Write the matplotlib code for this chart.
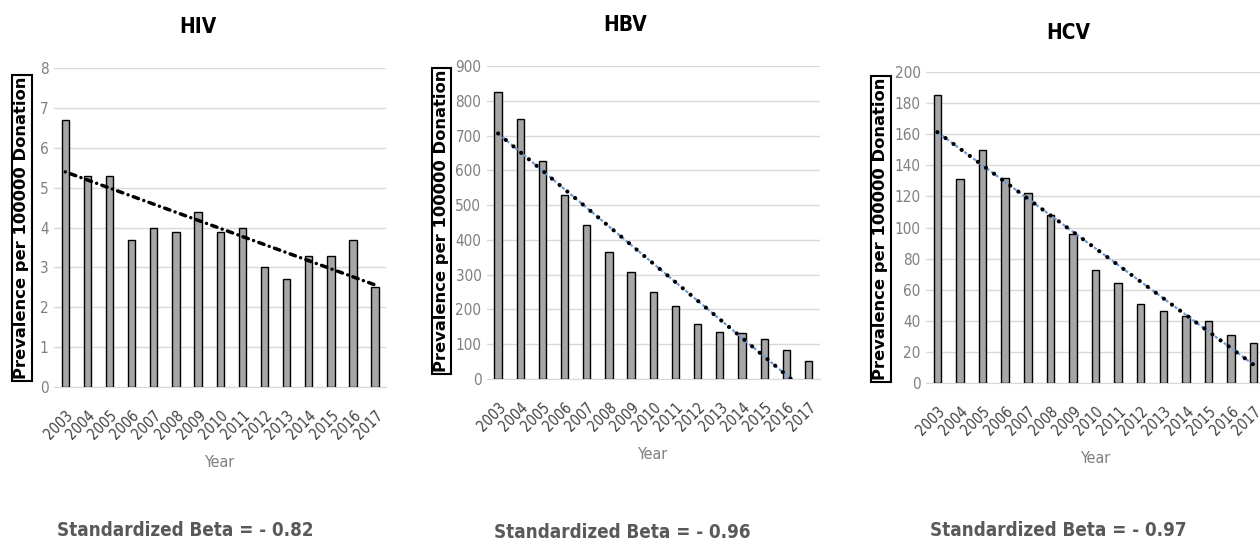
import matplotlib.pyplot as plt
import numpy as np
from matplotlib import font_manager

# Daten
years = ["2003", "2004", "2005", "2006", "2007", "2008", "2009", "2010",
         "2011", "2012", "2013", "2014", "2015", "2016", "2017"]
hiv = [6.7, 5.3, 5.3, 3.7, 4.0, 3.9, 4.4, 3.9, 4.0, 3.0, 2.7, 3.3, 3.3, 3.7, 2.5]
hbv = [825, 748, 626, 528, 443, 365, 307, 250, 210, 158, 135, 132, 116, 82, 53]
hcv = [185, 131, 150, 132, 122, 108, 96, 73, 64, 51, 46, 43, 40, 31, 26]
titles = ["HIV", "HBV", "HCV"]
betas = ["- 0.82", "- 0.96", "- 0.97"]

# schmale Schrift, falls vorhanden
names = {f.name for f in font_manager.fontManager.ttflist}
cond = [f for f in font_manager.fontManager.ttflist
        if f.name == "DejaVu Sans" and f.stretch in ("condensed", "semi-condensed")]
NARROW = ["Liberation Sans Narrow"] if "Liberation Sans Narrow" in names else ["Liberation Sans"]
STRETCH = "condensed" if cond else "normal"
NFAM = ["DejaVu Sans"] if cond else NARROW


def panel(fig, rect, values, ymax, ystep, trend_style):
    ax = fig.add_axes(rect)
    x = np.arange(len(years))
    # Balken
    ax.bar(x, values, width=0.33, color="#a6a6a6", edgecolor="black",
           linewidth=1.0, zorder=3)
    # lineare Regression
    params = np.polyfit(x, values, deg=1)
    x_plot = np.linspace(0, len(years) - 1, 200)
    y_plot = params[0] * x_plot + params[1]
    if trend_style == "black":
        ax.plot(x_plot, y_plot, color="black", linewidth=2.5,
                linestyle=(0, (0.01, 1.6, 1.6, 1.6)), dash_capstyle="round",
                zorder=4)
    else:
        ax.plot(x_plot, y_plot, color="#6f9bd8", linewidth=1.6,
                linestyle=(0, (1.5, 1.0)), zorder=4)
        ax.plot(x_plot, y_plot, color="black", linewidth=3.0,
                linestyle=(0, (0.01, 2.4)), dash_capstyle="round", zorder=5)

    ax.set_xlim(-0.5, len(years) - 0.5)
    ax.set_ylim(0, ymax)
    ax.set_yticks(np.arange(0, ymax + ystep / 2, ystep))
    ax.set_xticks(x)
    ax.set_xticklabels(years, rotation=45, ha="right", rotation_mode="anchor",
                       fontsize=10.5, color="#404040", family=NFAM,
                       fontstretch=STRETCH)
    for lab in ax.get_yticklabels():
        lab.set_family(NFAM)
        lab.set_fontstretch(STRETCH)
        lab.set_fontsize(11)
        lab.set_color("#7f7f7f")
    ax.tick_params(axis="both", length=0, pad=4)
    ax.tick_params(axis="x", pad=15)
    ax.grid(True, axis="y", color="#d9d9d9", linewidth=1.0, zorder=0)
    for side in ["left", "right", "top"]:
        ax.spines[side].set_visible(False)
    ax.spines["bottom"].set_color("#d9d9d9")
    ax.set_xlabel("Year", fontsize=11.5, color="#7f7f7f", family=NFAM,
                  fontstretch=STRETCH, labelpad=9)
    return ax


fig = plt.figure(figsize=(12.6, 5.46), dpi=100)

panel(fig, [0.043, 0.291, 0.2635, 0.5843], hiv, 8, 1, "black")
panel(fig, [0.3865, 0.306, 0.264, 0.573], hbv, 900, 100, "blue")
panel(fig, [0.735, 0.2985, 0.269, 0.5696], hcv, 200, 20, "blue")

# Titel
for xt, yt, t in zip([198, 625, 1068], [27, 25, 33], titles):
    fig.text(xt / 1260, 1 - yt / 546, t, ha="center", va="center",
             fontsize=15, fontweight="bold", family=NFAM, fontstretch=STRETCH)

# Achsenbeschriftung im Kasten
for xt, yt in zip([22, 441.5, 881], [228, 221, 229]):
    fig.text(xt / 1260, 1 - yt / 546, "Prevalence per 100000 Donation",
             rotation=90, ha="center", va="center", fontsize=11.8,
             fontweight="bold", family="DejaVu Sans",
             bbox=dict(boxstyle="square,pad=0.14", fc="white", ec="black",
                       lw=1.5))

# Standardized Beta
for xt, yt, b in zip([185, 622, 1058], [530, 533, 531], betas):
    fig.text(xt / 1260, 1 - yt / 546, "Standardized Beta = " + b,
             ha="center", va="center", fontsize=13.5, fontweight="bold",
             color="#595959", family=NFAM, fontstretch=STRETCH)

fig.savefig("out.png", dpi=100)
